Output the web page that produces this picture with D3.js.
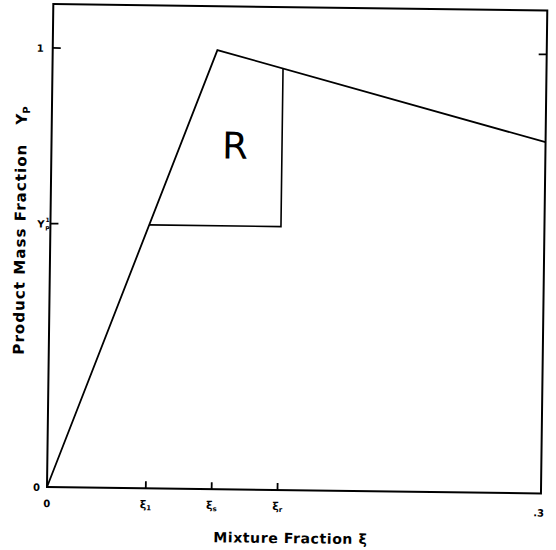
<!DOCTYPE html>
<html>
<head>
<meta charset="utf-8">
<script src="https://cdn.jsdelivr.net/npm/d3@7"></script>
<style>
  html, body { margin: 0; padding: 0; background: #fff; }
  svg { display: block; }
  text { font-family: "DejaVu Sans", sans-serif; fill: #000; }
</style>
</head>
<body>
<div id="chart"></div>
<script>
// Product mass fraction Y_P versus mixture fraction xi
const xDomain = [0, 0.3];
const yDomain = [0, 1.1];

// Piecewise-linear Y_P(xi): rises to 1 at stoichiometric xi_s, then falls
const profileXi = [0, 0.1, 0.3];
const profileY  = [0, 1.0, 0.8];

// Boundary of region R: horizontal at Y_P^1 from xi_1 to xi_r, then up to the curve
const regionXi = [0.06, 0.14, 0.14];
const regionY  = [0.6, 0.6, 0.96];

// Axis ticks (value + label parts: main, superscript, subscript)
const xTicks = [
  { v: 0.06, main: "ξ", sub: "1" },
  { v: 0.10, main: "ξ", sub: "s" },
  { v: 0.14, main: "ξ", sub: "r" }
];
const yTicks = [
  { v: 1.0, main: "1" },
  { v: 0.6, main: "Y", sup: "1", sub: "P" }
];
const regionLabel = { xi: 0.1115, y: 0.782, text: "R" };

const W = 556, H = 550;
const plotW = 494, plotH = 483;
const tilt = 0.75; // degrees

const svg = d3.select("#chart").append("svg")
  .attr("width", W).attr("height", H);

const g = svg.append("g")
  .attr("transform", `translate(47,487) rotate(${tilt}) translate(0,${-plotH})`);

const x = d3.scaleLinear().domain(xDomain).range([0, plotW]);
const y = d3.scaleLinear().domain(yDomain).range([plotH, 0]);

// Frame
g.append("rect")
  .attr("x", 0).attr("y", 0).attr("width", plotW).attr("height", plotH)
  .attr("fill", "none").attr("stroke", "#000").attr("stroke-width", 2);

// Inward ticks on left and right
const tickLen = 8;
g.selectAll(".ytickL").data(yTicks).join("line")
  .attr("x1", 0).attr("x2", tickLen)
  .attr("y1", d => y(d.v)).attr("y2", d => y(d.v))
  .attr("stroke", "#000").attr("stroke-width", 1.8);
g.selectAll(".ytickR").data(yTicks.filter(d => d.v === 1)).join("line")
  .attr("x1", plotW).attr("x2", plotW - tickLen)
  .attr("y1", d => y(d.v)).attr("y2", d => y(d.v))
  .attr("stroke", "#000").attr("stroke-width", 1.8);
// Inward ticks on bottom
g.selectAll(".xtick").data(xTicks).join("line")
  .attr("x1", d => x(d.v)).attr("x2", d => x(d.v))
  .attr("y1", plotH).attr("y2", plotH - 7)
  .attr("stroke", "#000").attr("stroke-width", 1.8);

// Tick labels
function styled(sel, size) {
  return sel.attr("font-size", size || 10).attr("font-weight", "bold");
}
g.selectAll(".xlab").data(xTicks).join("text")
  .call(styled, 11)
  .attr("x", d => x(d.v)).attr("y", plotH + 20)
  .attr("text-anchor", "middle")
  .each(function(d) {
    const t = d3.select(this);
    t.append("tspan").text(d.main);
    t.append("tspan").attr("font-size", 7).attr("dy", 2).text(d.sub);
  });

styled(g.append("text")).attr("x", x(0)).attr("y", plotH + 20)
  .attr("text-anchor", "middle").text("0");
styled(g.append("text")).attr("x", x(0.3) - 2).attr("y", plotH + 23)
  .attr("text-anchor", "middle").text(".3");
styled(g.append("text")).attr("x", -7).attr("y", y(0) + 4)
  .attr("text-anchor", "end").text("0");

yTicks.forEach(d => {
  if (!d.sup) {
    styled(g.append("text")).attr("x", -9).attr("y", y(d.v) + 4)
      .attr("text-anchor", "end").text(d.main);
    return;
  }
  styled(g.append("text"), 10).attr("x", -6).attr("y", y(d.v) + 4)
    .attr("text-anchor", "end").text(d.main);
  styled(g.append("text"), 6).attr("x", -5).attr("y", y(d.v) - 1.5)
    .text(d.sup);
  styled(g.append("text"), 6).attr("x", -5).attr("y", y(d.v) + 7)
    .text(d.sub);
});

// Profile and region boundary
const line = d3.line().x(d => x(d[0])).y(d => y(d[1]));
g.append("path")
  .datum(profileXi.map((v, i) => [v, profileY[i]]))
  .attr("d", line)
  .attr("fill", "none").attr("stroke", "#000").attr("stroke-width", 1.8)
  .attr("stroke-linejoin", "miter");
g.append("path")
  .datum(regionXi.map((v, i) => [v, regionY[i]]))
  .attr("d", line)
  .attr("fill", "none").attr("stroke", "#000").attr("stroke-width", 1.6);

// Region label
g.append("text")
  .attr("x", x(regionLabel.xi)).attr("y", y(regionLabel.y))
  .attr("text-anchor", "middle").attr("dominant-baseline", "central")
  .attr("font-family", "Liberation Sans, Arial, sans-serif")
  .attr("font-size", 37)
  .text(regionLabel.text);

// Axis titles
g.append("text")
  .attr("x", plotW / 2 - 3).attr("y", plotH + 53)
  .attr("text-anchor", "middle")
  .attr("font-size", 14).attr("font-weight", "bold").attr("letter-spacing", 0.6)
  .text("Mixture Fraction ξ");

g.append("text")
  .attr("transform", "translate(-25,246) rotate(-90)")
  .attr("text-anchor", "middle")
  .attr("font-size", 15).attr("font-weight", "bold")
  .attr("textLength", 210).attr("lengthAdjust", "spacing")
  .text("Product Mass Fraction");
const yp = g.append("text")
  .attr("transform", "translate(-25,121) rotate(-90)")
  .attr("font-size", 15).attr("font-weight", "bold");
yp.append("tspan").text("Y");
yp.append("tspan").attr("font-size", 10).attr("dy", 3).text("P");
</script>
</body>
</html>
